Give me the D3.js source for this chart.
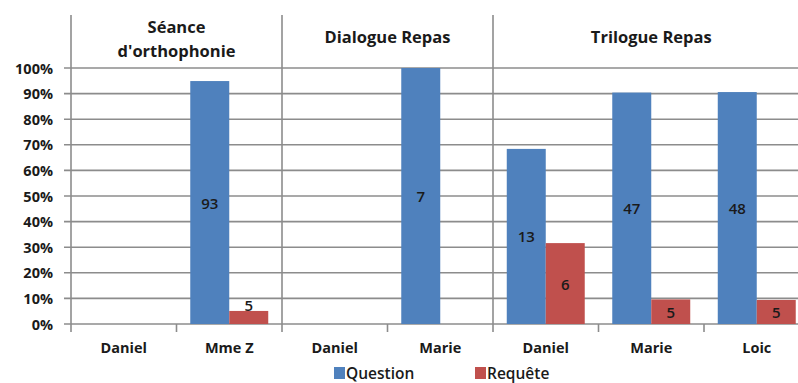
<!DOCTYPE html>
<html>
<head>
<meta charset="utf-8">
<script src="https://cdn.jsdelivr.net/npm/d3@7"></script>
<style>
  html, body { margin: 0; padding: 0; background: #fff; }
  svg { display: block; }
  text { font-family: "Open Sans", Lato, sans-serif; fill: #1a1a1a; }
</style>
</head>
<body>
<svg id="chart" width="798" height="383"></svg>
<script>
// ---- data ----
const categories = ["Daniel", "Mme Z", "Daniel", "Marie", "Daniel", "Marie", "Loic"];
const groupNames = [["Séance", "d'orthophonie"], ["Dialogue Repas"], ["Trilogue Repas"]];
const groupSizes = [2, 2, 3];
const seriesNames = ["Question", "Requête"];
const questionPct = [0, 94.9, 0, 100, 68.4, 90.4, 90.6];
const requetePct = [0, 5.1, 0, 0, 31.6, 9.6, 9.4];
const questionCount = [null, 93, null, 7, 13, 47, 48];
const requeteCount = [null, 5, null, null, 6, 5, 5];
const yTicks = [0, 10, 20, 30, 40, 50, 60, 70, 80, 90, 100];
const colors = ["#4F81BD", "#C0504D"];

(function () {
// ---- layout ----
const svg = d3.select("#chart");
const plotLeft = 71, plotRight = 809.5, plotTop = 68, plotBottom = 324, sepTop = 15;
const gridColor = "#8c8c8c";

const x = d3.scaleBand().domain(d3.range(categories.length)).range([plotLeft, plotRight]).padding(0);
const xs = d3.scaleBand().domain(seriesNames).range([0, x.bandwidth()]).paddingInner(0).paddingOuter(0.353);
const y = d3.scaleLinear().domain([0, 100]).range([plotBottom, plotTop]);

// gridlines
svg.append("g").selectAll("line").data(yTicks).join("line")
  .attr("x1", plotLeft - 7).attr("x2", 798)
  .attr("y1", d => y(d)).attr("y2", d => y(d))
  .attr("stroke", gridColor).attr("stroke-width", 1.6);

// y axis labels
svg.append("g").selectAll("text").data(yTicks).join("text")
  .attr("x", 53).attr("y", d => y(d))
  .attr("text-anchor", "end").attr("dominant-baseline", "central")
  .attr("font-size", 14.5).attr("font-weight", 700)
  .text(d => d + "%");

// group boundaries
const groupStarts = [];
let acc = 0;
groupSizes.forEach(s => { groupStarts.push(acc); acc += s; });
svg.append("g").selectAll("line").data(groupStarts).join("line")
  .attr("x1", d => x(d)).attr("x2", d => x(d))
  .attr("y1", sepTop).attr("y2", plotBottom + 8)
  .attr("stroke", gridColor).attr("stroke-width", 1.6);
// category ticks
const innerTicks = d3.range(1, categories.length).filter(i => !groupStarts.includes(i));
svg.append("g").selectAll("line").data(innerTicks).join("line")
  .attr("x1", d => x(d)).attr("x2", d => x(d))
  .attr("y1", plotBottom).attr("y2", plotBottom + 8)
  .attr("stroke", gridColor).attr("stroke-width", 1.6);

// bars
const series = [questionPct, requetePct];
const counts = [questionCount, requeteCount];
series.forEach((vals, s) => {
  const recs = vals.map((v, i) => ({ v, i, c: counts[s][i] }));
  svg.append("g").selectAll("rect").data(recs).join("rect")
    .attr("x", d => x(d.i) + xs(seriesNames[s]))
    .attr("width", xs.bandwidth())
    .attr("y", d => y(d.v))
    .attr("height", d => y(0) - y(d.v))
    .attr("fill", colors[s]);
});
series.forEach((vals, s) => {
  const recs = vals.map((v, i) => ({ v, i, c: counts[s][i] })).filter(d => d.c != null);
  svg.append("g").selectAll("text").data(recs).join("text")
    .attr("x", d => x(d.i) + xs(seriesNames[s]) + xs.bandwidth() / 2)
    .attr("y", d => {
      const h = y(0) - y(d.v);
      return h < 16 ? y(d.v) - 5.5 : (y(d.v) + y(0)) / 2;
    })
    .attr("text-anchor", "middle").attr("dominant-baseline", "central")
    .attr("font-size", 15).attr("font-weight", 600)
    .text(d => d.c);
});

// x labels
svg.append("g").selectAll("text").data(categories).join("text")
  .attr("x", (d, i) => x(i) + x.bandwidth() / 2)
  .attr("y", 353)
  .attr("text-anchor", "middle")
  .attr("font-size", 14.5).attr("font-weight", 700)
  .text(d => d);

// group headers
groupNames.forEach((lines, gi) => {
  const cx = (x(groupStarts[gi]) + x(groupStarts[gi] + groupSizes[gi] - 1) + x.bandwidth()) / 2;
  const baseY = lines.length > 1 ? 33 : 43;
  lines.forEach((ln, li) => {
    svg.append("text")
      .attr("x", cx).attr("y", baseY + li * 24)
      .attr("text-anchor", "middle")
      .attr("font-size", 16.5).attr("font-weight", 700)
      .text(ln);
  });
});

// legend
const legend = svg.append("g");
const legendItems = [{ name: seriesNames[0], x: 334 }, { name: seriesNames[1], x: 475 }];
legendItems.forEach((it, i) => {
  legend.append("rect").attr("x", it.x).attr("y", 367).attr("width", 11).attr("height", 12).attr("fill", colors[i]);
  legend.append("text").attr("x", it.x + 12).attr("y", 373)
    .attr("dominant-baseline", "central")
    .attr("font-size", 15.5).attr("font-weight", 600)
    .text(it.name);
});
})();
</script>
</body>
</html>
